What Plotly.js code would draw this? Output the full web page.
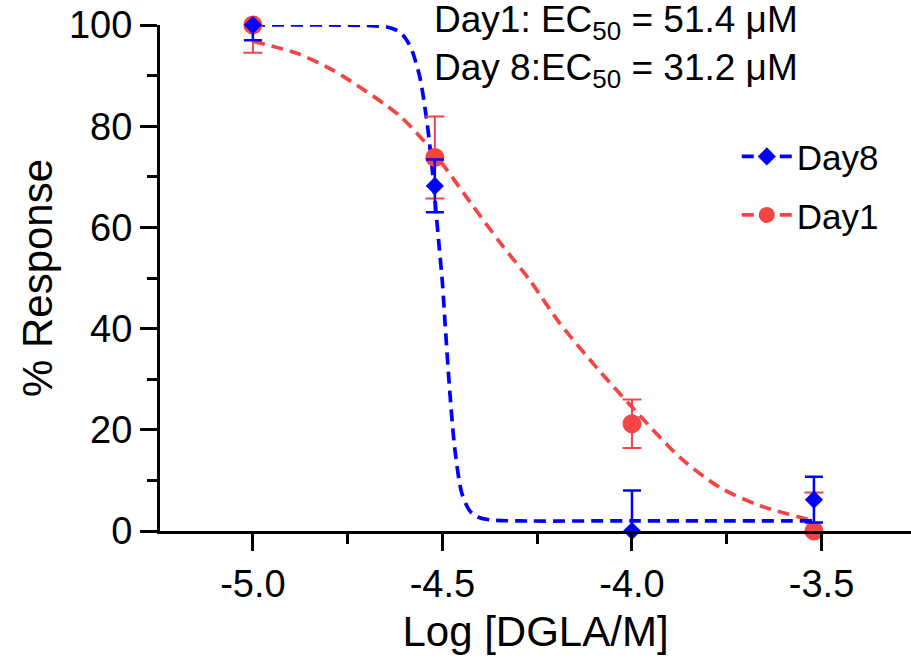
<!DOCTYPE html>
<html><head><meta charset="utf-8">
<script src="https://cdn.plot.ly/plotly-3.0.1.min.js"></script>
<style>html,body{margin:0;padding:0;background:#fff}</style>
</head><body><div id="chart" style="width:911px;height:663px"></div>
<script>
// measured data (log dose, % response, error)
const logDose = [-5.0, -4.52, -4.0, -3.52];
const day8Resp = [100, 68.2, 0, 6.2];
const day8Err = [3.0, 5.2, 8.0, 4.5];
const day1Resp = [100, 73.8, 21.2, 0];
const day1Err = [5.5, 8.1, 4.8, 7.6];

// fitted curves
const day8FitX = [-5.0, -4.8, -4.7, -4.646, -4.612, -4.59, -4.578, -4.559, -4.542, -4.533, -4.525, -4.512, -4.50, -4.493, -4.48, -4.467, -4.449, -4.43, -4.414, -4.375, -4.3, -4.0, -3.52];
const day8FitY = [100, 100, 99.9, 99.6, 98.6, 96.5, 94.5, 89.5, 81.5, 76, 70, 59, 49, 41, 27, 16, 7.5, 4.2, 3.0, 2.2, 2.0, 2.0, 2.0];
const day1FitX = [-5.0, -4.88, -4.80, -4.744, -4.612, -4.52, -4.427, -4.348, -4.269, -4.19, -4.084, -4.0, -3.873, -3.768, -3.662, -3.52];
const day1FitY = [96.8, 94.3, 91.5, 89.0, 82.0, 74.5, 65.0, 57.0, 49.5, 41.0, 31.5, 24.5, 14.5, 8.6, 5.0, 2.0];

const xTickVals = [-5.0, -4.5, -4.0, -3.5];
const xTickText = ['-5.0', '-4.5', '-4.0', '-3.5'];

const BLUE = '#0000FF';
const RED = '#F54444';
const FONT = 'Arial, "Liberation Sans", sans-serif';
const DASH = '12px,7px';

const traces = [
  {x: day1FitX, y: day1FitY, mode: 'lines', line: {color: RED, width: 3.7, dash: DASH, shape: 'spline', smoothing: 0.8}, showlegend: false, hoverinfo: 'skip'},
  {x: day8FitX, y: day8FitY, mode: 'lines', line: {color: BLUE, width: 3.7, dash: DASH, shape: 'spline', smoothing: 0.8}, showlegend: false, hoverinfo: 'skip'},
  {x: logDose, y: day1Resp, mode: 'markers', marker: {symbol: 'circle', size: 19, color: RED},
   error_y: {type: 'data', array: day1Err, visible: true, color: RED, thickness: 2, width: 9.5},
   showlegend: false, cliponaxis: false},
  {x: logDose, y: day8Resp, mode: 'markers', marker: {symbol: 'diamond', size: 14, color: BLUE},
   error_y: {type: 'data', array: day8Err, visible: true, color: BLUE, thickness: 2.5, width: 9},
   showlegend: false, cliponaxis: false},
  // legend entries
  {x: [null], y: [null], name: 'Day8', mode: 'lines+markers', legendgroup: 'a',
   line: {color: BLUE, width: 3.7, dash: DASH}, marker: {symbol: 'diamond', size: 14, color: BLUE}},
  {x: [null], y: [null], name: 'Day1', mode: 'lines+markers', legendgroup: 'b',
   line: {color: RED, width: 3.7, dash: DASH}, marker: {symbol: 'circle', size: 19, color: RED}}
];

const layout = {
  width: 911, height: 663,
  margin: {l: 160, r: 0, t: 25, b: 132, pad: 0},
  paper_bgcolor: '#fff', plot_bgcolor: '#fff',
  font: {family: FONT, color: '#000'},
  xaxis: {
    range: [-5.245, -3.264], showgrid: false, zeroline: false,
    showline: true, linecolor: '#000', linewidth: 3,
    ticks: 'outside', ticklen: 17, tickwidth: 3, tickcolor: '#000',
    tickmode: 'array', tickvals: xTickVals, ticktext: xTickText,
    tickfont: {size: 38, family: FONT},
    minor: {dtick: 0.25, tick0: -5, ticks: 'outside', ticklen: 10, tickwidth: 3, tickcolor: '#000', showgrid: false},
    title: {text: 'Log [DGLA/M]', font: {size: 42, family: FONT}, standoff: 14}
  },
  yaxis: {
    range: [0, 100], showgrid: false, zeroline: false,
    showline: true, linecolor: '#000', linewidth: 3,
    ticks: 'outside', ticklen: 17, tickwidth: 3, tickcolor: '#000',
    dtick: 20, tick0: 0,
    tickfont: {size: 38, family: FONT},
    minor: {dtick: 10, tick0: 0, ticks: 'outside', ticklen: 10, tickwidth: 3, tickcolor: '#000', showgrid: false},
    title: {text: '% Response', font: {size: 42, family: FONT}, standoff: 4}
  },
  showlegend: true,
  legend: {x: 0.768, y: 0.798, xanchor: 'left', yanchor: 'top', font: {size: 35, family: FONT},
           bgcolor: 'rgba(0,0,0,0)', traceorder: 'grouped', tracegroupgap: 10, itemwidth: 50},
  annotations: [
    {xref: 'paper', yref: 'paper', x: 0.362, y: 1.006, xanchor: 'left', yanchor: 'middle', showarrow: false,
     text: 'Day1: EC<sub>50</sub> = 51.4 μM', font: {size: 37, family: FONT}},
    {xref: 'paper', yref: 'paper', x: 0.362, y: 0.911, xanchor: 'left', yanchor: 'middle', showarrow: false,
     text: 'Day 8:EC<sub>50</sub> = 31.2 μM', font: {size: 37, family: FONT}}
  ]
};

Plotly.newPlot('chart', traces, layout, {displayModeBar: false, staticPlot: true});
</script></body></html>
